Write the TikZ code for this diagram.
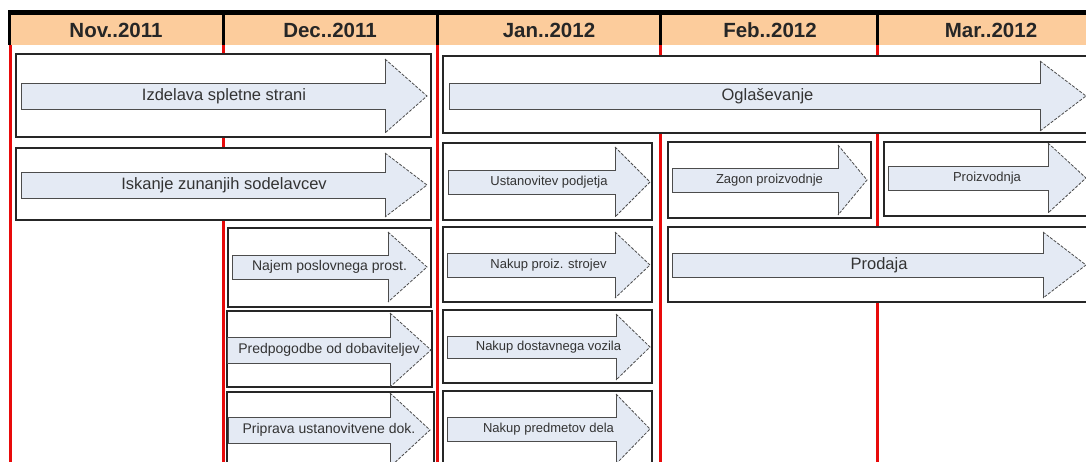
\documentclass[tikz,border=0pt]{standalone}
\usepackage{fontspec}
\setmainfont{Liberation Sans}
\usepackage{xcolor}
\usepackage{tikz}
\usetikzlibrary{positioning}

\definecolor{headfill}{RGB}{252,204,156}
\definecolor{arrowfill}{RGB}{228,234,244}
\definecolor{gridred}{RGB}{232,10,10}

\tikzset{
  taskbox/.style={draw=black!85, line width=1.7pt, fill=white},
  arrowline/.style={draw=black!70, line width=0.8pt},
  monthlabel/.style={font=\fontsize{20.5}{22}\selectfont\bfseries, text=black!85},
  tasktext/.style={font=\fontsize{14}{16}\selectfont, text=black!80, inner sep=0pt},
  bigtext/.style={tasktext, font=\fontsize{16.5}{18}\selectfont},
  smalltext/.style={tasktext, font=\fontsize{13}{15}\selectfont},
}

% arrow: #1 name, #2 left, #3 head, #4 tip, #5 middle y, #6 shaft half, #7 head half, #8 text, #9 style
\newcommand{\taskarrow}[9]{%
  \fill[arrowfill] (#2,{#5-#6}) -- (#3,{#5-#6}) -- (#3,{#5-#7}) -- (#4,#5) -- (#3,{#5+#7}) -- (#3,{#5+#6}) -- (#2,{#5+#6}) -- cycle;
  \draw[arrowline] (#3,{#5-#7}) -- (#3,{#5-#6}) -- (#2,{#5-#6}) -- (#2,{#5+#6}) -- (#3,{#5+#6}) -- (#3,{#5+#7});
  \draw[arrowline, dashed, dash pattern=on 3pt off 1.5pt] (#3,{#5-#7}) -- (#4,#5) -- (#3,{#5+#7});
  \node[#9] (#1) at ({(#2+#4)/2},#5) {#8};
}

\begin{document}
\begin{tikzpicture}[x=1pt, y=-1pt]
    \useasboundingbox (0,0) rectangle (1086,461);
    \clip (0,0) rectangle (1086,461);

    % Glava z meseci
    \fill[headfill] (9,14) rectangle (1090,45);
    \fill[black] (9,10) rectangle (1090,15);
    \fill[black] (8,10) rectangle (11,45);
    \foreach \x in {223, 437, 660, 877}
        \fill[black] (\x-1.5,10) rectangle (\x+1.5,45);
    \node[monthlabel] (nov) at (116,30) {Nov..2011};
    \node[monthlabel] (dec) at (330,30) {Dec..2011};
    \node[monthlabel] (jan) at (549,30) {Jan..2012};
    \node[monthlabel] (feb) at (770,30) {Feb..2012};
    \node[monthlabel] (mar) at (991,30) {Mar..2012};

    % Rdece crte med meseci
    \foreach \x in {10.5, 223, 437.5, 660, 877}
        \draw[gridred, line width=3pt] (\x,45) -- (\x,470);

    % Prva vrsta
    \draw[taskbox] (16,54) rectangle (431,137);
    \taskarrow{izdelava}{21}{385}{427}{96}{13}{37}{Izdelava spletne strani}{bigtext}
    \draw[taskbox] (443,56) rectangle (1100,133);
    \taskarrow{oglas}{449}{1040}{1086}{96}{13}{35}{Oglaševanje}{bigtext}

    % Druga vrsta
    \draw[taskbox] (16,148) rectangle (431,220);
    \taskarrow{iskanje}{21}{385}{427}{185}{13}{32}{Iskanje zunanjih sodelavcev}{bigtext}
    \draw[taskbox] (443,143) rectangle (652,220);
    \taskarrow{ustan}{448}{615}{650}{182}{12}{35}{Ustanovitev podjetja}{smalltext}
    \draw[taskbox] (668,142) rectangle (871,218);
    \taskarrow{zagon}{672}{838}{867}{180}{12}{35}{Zagon proizvodnje}{smalltext}
    \draw[taskbox] (884,142) rectangle (1100,216);
    \taskarrow{proizv}{888}{1048}{1086}{178}{12}{35}{Proizvodnja}{smalltext}

    % Tretja vrsta
    \draw[taskbox] (228,228) rectangle (431,307);
    \taskarrow{najem}{232}{388}{427}{267}{12}{35}{Najem poslovnega prost.}{tasktext}
    \draw[taskbox] (443,227) rectangle (652,302);
    \taskarrow{stroji}{447}{615}{650}{265}{12}{33}{Nakup proiz. strojev}{smalltext}
    \draw[taskbox] (668,227) rectangle (1100,302);
    \taskarrow{prodaja}{672}{1043}{1086}{265}{12}{33}{Prodaja}{bigtext}

    % Cetrta vrsta
    \draw[taskbox] (227,311) rectangle (432,387);
    \taskarrow{predpog}{227}{390}{431}{350}{13}{37}{Predpogodbe od dobaviteljev}{tasktext}
    \draw[taskbox] (443,310) rectangle (652,383);
    \taskarrow{vozilo}{447}{616}{650}{347}{11}{33}{Nakup dostavnega vozila}{smalltext}

    % Peta vrsta
    \draw[taskbox] (227,392) rectangle (434,475);
    \taskarrow{priprava}{228}{390}{430}{430}{13}{37}{Priprava ustanovitvene dok.}{tasktext}
    \draw[taskbox] (443,391) rectangle (652,475);
    \taskarrow{predmeti}{447}{616}{650}{429}{12}{35}{Nakup predmetov dela}{smalltext}

\end{tikzpicture}
\end{document}
